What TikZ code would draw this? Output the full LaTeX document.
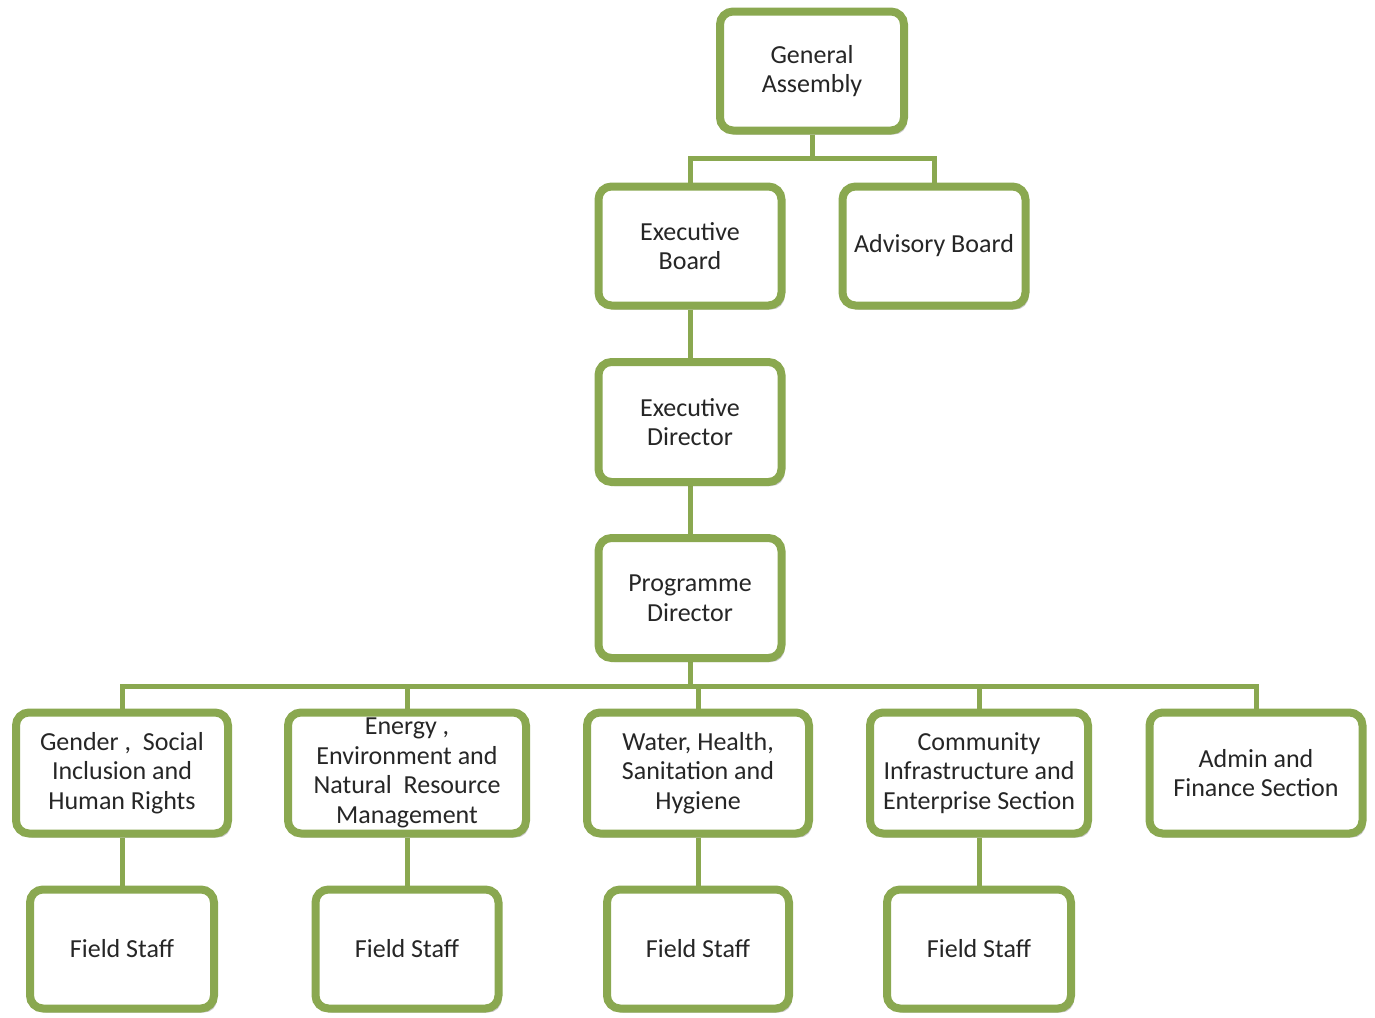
\documentclass[tikz,border=0pt]{standalone}
\usepackage{fontspec}
\setmainfont{Carlito}
\usetikzlibrary{shadows,backgrounds}
\definecolor{olivegreen}{RGB}{138,168,80}
\tikzset{
	unit/.style={draw=olivegreen, line width=8pt, rounded corners=13pt, fill=white,
		align=center, inner sep=0pt, text=black!85,
		font=\fontsize{26}{29.5}\selectfont,
		drop shadow={shadow xshift=3pt, shadow yshift=-4pt, opacity=.3, fill=black!70}},
	link/.style={draw=olivegreen, line width=5pt}
}
\begin{document}
\begin{tikzpicture}[x=1pt,y=-1pt]
			\useasboundingbox (0,0) rectangle (1375,1017);
			
			\node[unit, minimum width=184pt, minimum height=119pt] (ga) at (812,71) {General\\Assembly};
			
			\node[unit, minimum width=183pt, minimum height=119pt] (eb) at (690,246) {Executive\\Board};
			\node[unit, minimum width=183pt, minimum height=119pt] (ab) at (934,246) {Advisory Board};
			
			\node[unit, minimum width=183pt, minimum height=120pt] (ed) at (690,422) {Executive\\Director};
			\node[unit, minimum width=183pt, minimum height=120pt] (pd) at (690,598) {Programme\\Director};
			
			\node[unit, minimum width=212pt, minimum height=121pt] (gen) at (122,773) {Gender ,\ \ Social\\Inclusion and\\Human Rights};
			\node[unit, minimum width=238pt, minimum height=121pt] (ene) at (407,773) {Energy ,\\Environment and\\Natural\ \ Resource\\Management};
			\node[unit, minimum width=222pt, minimum height=121pt] (wat) at (698,773) {Water, Health,\\Sanitation and\\Hygiene};
			\node[unit, minimum width=218pt, minimum height=121pt] (com) at (979,773) {Community\\Infrastructure and\\Enterprise Section};
			\node[unit, minimum width=213pt, minimum height=121pt] (adm) at (1256,773) {Admin and\\Finance Section};
			
			\node[unit, minimum width=184pt, minimum height=119pt] (fs1) at (122,949) {Field Staff};
			\node[unit, minimum width=183pt, minimum height=119pt] (fs2) at (407,949) {Field Staff};
			\node[unit, minimum width=182pt, minimum height=119pt] (fs3) at (698,949) {Field Staff};
			\node[unit, minimum width=184pt, minimum height=119pt] (fs4) at (979,949) {Field Staff};
			
			\coordinate (gajoin) at (812,158);
			\coordinate (pdjoin) at (690,686);
			
			\begin{scope}[on background layer]
			\fill[white] (0,0) rectangle (1375,1017);
			\draw[link] (ga) -- (gajoin);
			\draw[link] (eb) |- (gajoin) -| (ab);
			\draw[link] (eb) -- (ed);
			\draw[link] (ed) -- (pd);
			\draw[link] (pd) -- (pdjoin);
			\foreach \n in {gen,ene,wat,com,adm} \draw[link] (\n) |- (pdjoin);
			\foreach \a/\b in {gen/fs1,ene/fs2,wat/fs3,com/fs4} \draw[link] (\a) -- (\b);
			\end{scope}
\end{tikzpicture}
\end{document}
